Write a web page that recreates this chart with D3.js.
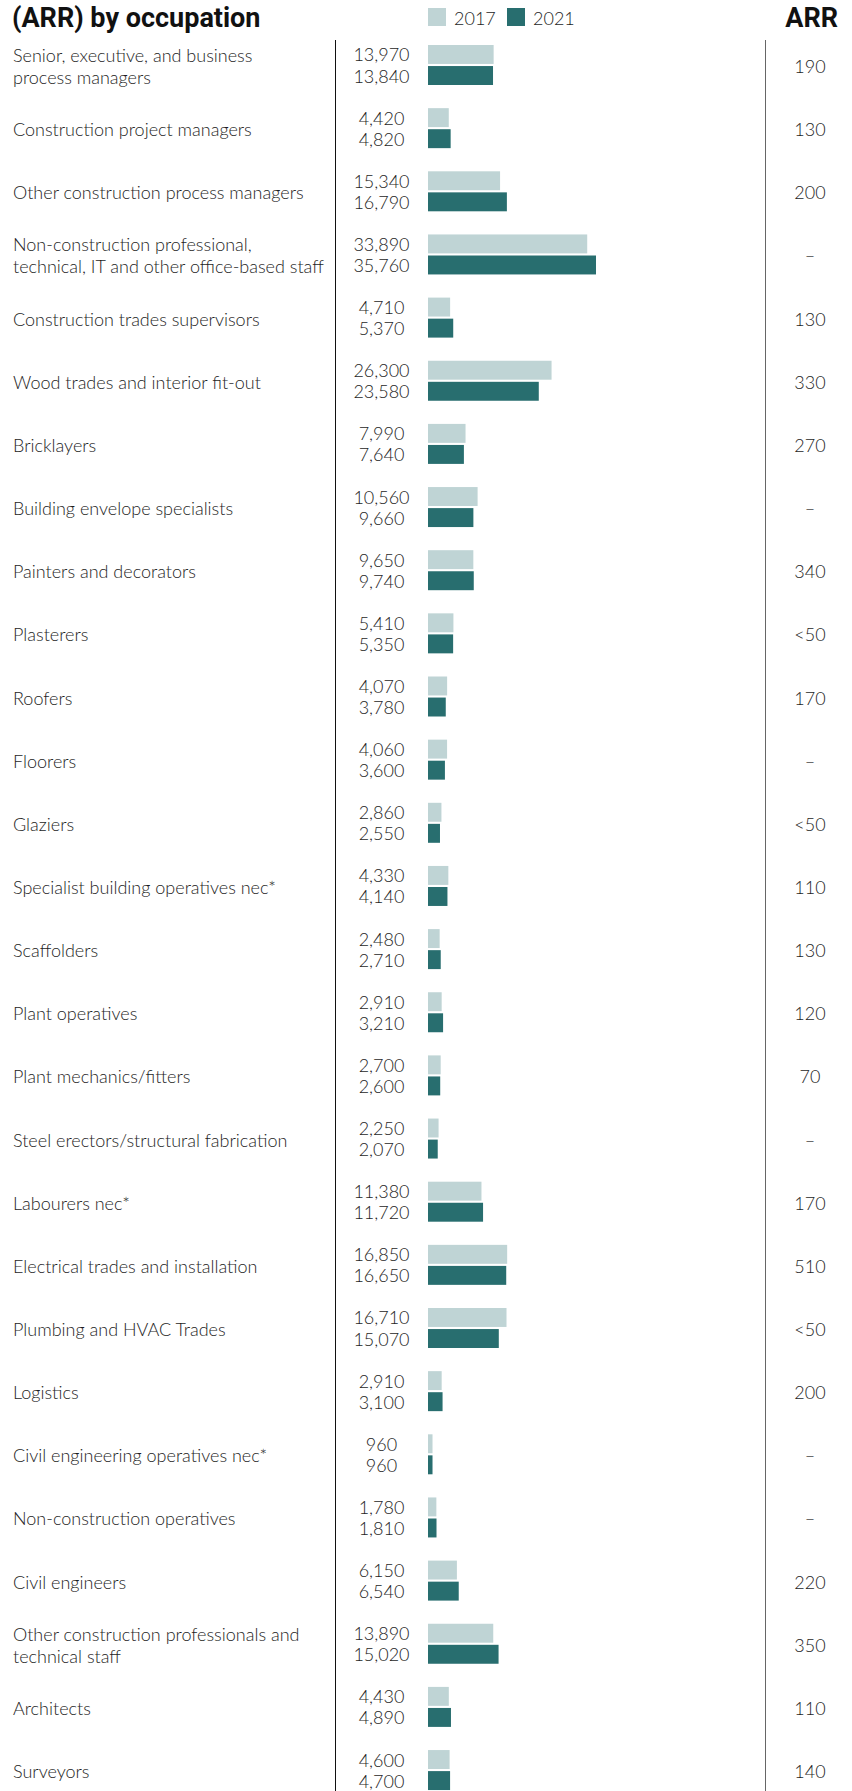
<!DOCTYPE html>
<meta charset="utf-8">
<style>
 body { margin: 0; background: #fff; }
 svg { display: block; }
 .lab { font-family: 'Lato', 'Open Sans', sans-serif; font-weight: 300; font-size: 18px; fill: #1e1e1e; }
 .head { font-family: 'Roboto', sans-serif; font-weight: 700; font-size: 27px; fill: #111; }
</style>
<svg width="852" height="1791"></svg>
<script src="https://d3js.org/d3.v7.min.js"></script>
<script>
 // occupations, '|' marks a line break in the label
 var occupations = [
     'Senior, executive, and business|process managers',
     'Construction project managers',
     'Other construction process managers',
     'Non-construction professional,|technical, IT and other office-based staff',
     'Construction trades supervisors',
     'Wood trades and interior fit-out',
     'Bricklayers',
     'Building envelope specialists',
     'Painters and decorators',
     'Plasterers',
     'Roofers',
     'Floorers',
     'Glaziers',
     'Specialist building operatives nec*',
     'Scaffolders',
     'Plant operatives',
     'Plant mechanics/fitters',
     'Steel erectors/structural fabrication',
     'Labourers nec*',
     'Electrical trades and installation',
     'Plumbing and HVAC Trades',
     'Logistics',
     'Civil engineering operatives nec*',
     'Non-construction operatives',
     'Civil engineers',
     'Other construction professionals and|technical staff',
     'Architects',
     'Surveyors'
 ];
 var years = ['2017', '2021'];
 var values2017 = [13970, 4420, 15340, 33890, 4710, 26300, 7990, 10560, 9650, 5410, 4070, 4060, 2860, 4330,
                   2480, 2910, 2700, 2250, 11380, 16850, 16710, 2910, 960, 1780, 6150, 13890, 4430, 4600];
 var values2021 = [13840, 4820, 16790, 35760, 5370, 23580, 7640, 9660, 9740, 5350, 3780, 3600, 2550, 4140,
                   2710, 3210, 2600, 2070, 11720, 16650, 15070, 3100, 960, 1810, 6540, 15020, 4890, 4700];
 var arr = ['190', '130', '200', '–', '130', '330', '270', '–', '340', '<50', '170', '–', '<50', '110',
            '130', '120', '70', '–', '170', '510', '<50', '200', '–', '–', '220', '350', '110', '140'];

 var colors = { '2017': '#bfd4d5', '2021': '#286e6f' };
 var fmt = d3.format(',');
 var svg = d3.select('svg');

 var y = d3.scaleBand().domain(occupations).range([45, 45 + 28 * 63.15]);
 var inner = d3.scaleBand().domain(years).range([0, 40]).paddingInner(0.1);
 var x = d3.scaleLinear().domain([0, 35760]).range([428, 596]);

 // headings
 svg.append('text').attr('class', 'head').attr('x', 12).attr('y', 27).text('(ARR) by occupation');
 svg.append('text').attr('class', 'head').attr('x', 838).attr('y', 27)
    .attr('text-anchor', 'end').text('ARR');

 // legend
 var leg = svg.append('g').selectAll('g').data(years).enter().append('g')
     .attr('transform', function(d, i) { return 'translate(' + (428 + i * 79) + ',8)'; });
 leg.append('rect').attr('width', 18).attr('height', 18).attr('fill', function(d) { return colors[d]; });
 leg.append('text').attr('class', 'lab').attr('x', 26).attr('y', 17).text(function(d) { return d; });

 // separator lines
 svg.append('line').attr('x1', 335.5).attr('x2', 335.5).attr('y1', 40).attr('y2', 1791)
    .attr('stroke', '#111').attr('stroke-width', 1);
 svg.append('line').attr('x1', 765.5).attr('x2', 765.5).attr('y1', 40).attr('y2', 1791)
    .attr('stroke', '#666').attr('stroke-width', 1);

 var rows = svg.append('g').selectAll('g').data(occupations).enter().append('g')
     .attr('transform', function(d) { return 'translate(0,' + y(d) + ')'; });

 // occupation labels
 rows.append('text').attr('class', 'lab')
     .attr('x', 13)
     .each(function(d) {
         var lines = d.split('|');
         var t = d3.select(this);
         lines.forEach(function(l, i) {
             t.append('tspan').attr('x', 13)
              .attr('y', 28 + (i - (lines.length - 1) / 2) * 22)
              .text(l);
         });
     });

 // bars and value labels
 rows.each(function(d, i) {
     var g = d3.select(this);
     var vals = { '2017': values2017[i], '2021': values2021[i] };
     years.forEach(function(yr) {
         g.append('rect')
          .attr('x', x(0))
          .attr('y', inner(yr))
          .attr('width', x(vals[yr]) - x(0))
          .attr('height', inner.bandwidth())
          .attr('fill', colors[yr]);
         g.append('text').attr('class', 'lab')
          .attr('x', 381.5)
          .attr('y', inner(yr) + inner.bandwidth() / 2 + 7)
          .attr('text-anchor', 'middle')
          .text(fmt(vals[yr]));
     });
     g.append('text').attr('class', 'lab')
      .attr('x', 810)
      .attr('y', 28)
      .attr('text-anchor', 'middle')
      .text(arr[i]);
 });
</script>
